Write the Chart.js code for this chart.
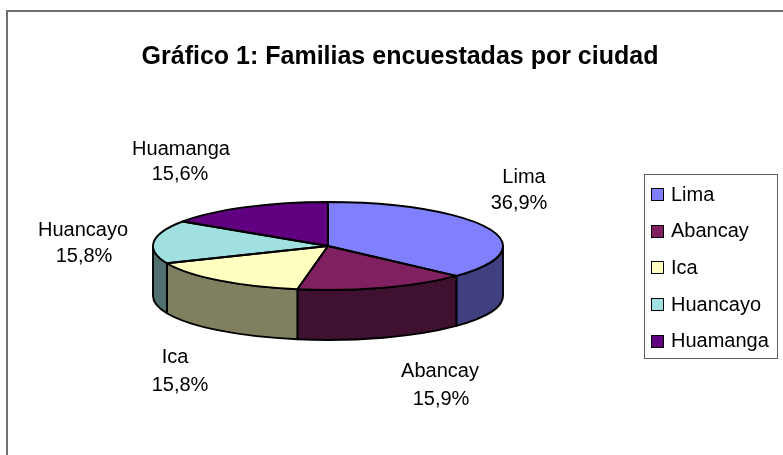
<!DOCTYPE html>
<html><head><meta charset="utf-8">
<script src="https://cdn.jsdelivr.net/npm/chart.js@4"></script>
<style>html,body{margin:0;padding:0;background:#fff}#wrap{width:783px;height:455px;position:relative}canvas{display:block}</style>
</head><body><div id="wrap"><canvas id="c" width="783" height="455"></canvas></div>
<script>
// ---- data ----
const categories = ['Lima', 'Abancay', 'Ica', 'Huancayo', 'Huamanga'];
const values = [36.9, 15.9, 15.8, 15.8, 15.6];
const percentLabels = ['36,9%', '15,9%', '15,8%', '15,8%', '15,6%'];
const titleText = 'Gráfico 1: Familias encuestadas por ciudad';

// ---- styles ----
const topColors = ['#8080FF', '#802060', '#FFFFC0', '#A0E0E0', '#600080'];
const sideColors = ['#404080', '#401030', '#808060', '#507070', '#300040'];

// ---- layout ----
const G = {cx: 328, cy: 246, rx: 175, ry: 44, depth: 50};
const labelLayout = [
  [524, 177, 519, 203],
  [440, 371, 441, 399],
  [175, 357, 180, 385],
  [83, 230, 84, 256],
  [181, 149, 180, 174]
];
const FONT = '"Liberation Sans", Arial, sans-serif';

function arcList(chart) { return chart.getDatasetMeta(0).data; }

const pie3d = {
  id: 'pie3d',
  beforeDatasetsDraw(chart) {
    const ctx = chart.ctx;
    const els = arcList(chart);
    ctx.save();
    ctx.lineWidth = 1.9; ctx.strokeStyle = '#000'; ctx.lineJoin = 'round';
    els.forEach((el, i) => {
      const p = el.getProps(['startAngle', 'endAngle'], true);
      const a = Math.max(p.startAngle, 0), b = Math.min(p.endAngle, Math.PI);
      if (b <= a) return;
      ctx.beginPath();
      ctx.ellipse(G.cx, G.cy, G.rx, G.ry, 0, a, b, false);
      ctx.lineTo(G.cx + G.rx * Math.cos(b), G.cy + G.depth + G.ry * Math.sin(b));
      ctx.ellipse(G.cx, G.cy + G.depth, G.rx, G.ry, 0, b, a, true);
      ctx.closePath();
      ctx.fillStyle = sideColors[i];
      ctx.fill();
      ctx.stroke();
    });
    ctx.restore();
    const p0 = els[0].getProps(['x', 'y', 'outerRadius'], true);
    ctx.save();
    ctx.translate(G.cx, G.cy);
    ctx.scale(G.rx / p0.outerRadius, G.ry / p0.outerRadius);
    ctx.translate(-p0.x, -p0.y);
  },
  afterDatasetsDraw(chart) {
    const ctx = chart.ctx;
    ctx.restore();
    const els = arcList(chart);
    ctx.save();
    ctx.lineWidth = 1.9; ctx.strokeStyle = '#000'; ctx.lineJoin = 'round';
    els.forEach(el => {
      const p = el.getProps(['startAngle', 'endAngle'], true);
      ctx.beginPath();
      ctx.moveTo(G.cx, G.cy);
      ctx.ellipse(G.cx, G.cy, G.rx, G.ry, 0, p.startAngle, p.endAngle, false);
      ctx.closePath();
      ctx.stroke();
    });
    // data labels
    ctx.fillStyle = '#000';
    ctx.font = '20px ' + FONT;
    ctx.textAlign = 'center';
    ctx.textBaseline = 'middle';
    categories.forEach((c, i) => {
      const L = labelLayout[i];
      ctx.fillText(c, L[0], L[1]);
      ctx.fillText(percentLabels[i], L[2], L[3]);
    });
    ctx.restore();
  },
  afterDraw(chart) {
    const ctx = chart.ctx;
    ctx.save();
    // frame
    ctx.strokeStyle = '#707070'; ctx.lineWidth = 2;
    ctx.strokeRect(7, 11, 900, 600);
    // title
    ctx.fillStyle = '#000';
    ctx.font = 'bold 25px ' + FONT;
    ctx.textAlign = 'center'; ctx.textBaseline = 'middle';
    ctx.fillText(titleText, 400, 57);
    // legend
    ctx.strokeStyle = '#606060'; ctx.lineWidth = 1;
    ctx.strokeRect(644.5, 174.5, 133, 184);
    ctx.font = '20px ' + FONT;
    ctx.textAlign = 'left';
    categories.forEach((c, i) => {
      const y = 195 + i * 36.7;
      ctx.fillStyle = topColors[i];
      ctx.fillRect(651.5, Math.round(y) - 6.5, 12, 12);
      ctx.strokeStyle = '#000';
      ctx.strokeRect(651.5, Math.round(y) - 6.5, 12, 12);
      ctx.fillStyle = '#000';
      ctx.fillText(c, 671, y);
    });
    ctx.restore();
  }
};

new Chart(document.getElementById('c'), {
  type: 'pie',
  data: {
    labels: categories,
    datasets: [{ data: values, backgroundColor: topColors, borderWidth: 0, clip: false }]
  },
  options: {
    responsive: false,
    maintainAspectRatio: false,
    devicePixelRatio: 1,
    animation: false,
    events: [],
    layout: { padding: 0 },
    plugins: { legend: { display: false }, tooltip: { enabled: false }, title: { display: false } }
  },
  plugins: [pie3d]
});
</script>
</body></html>
